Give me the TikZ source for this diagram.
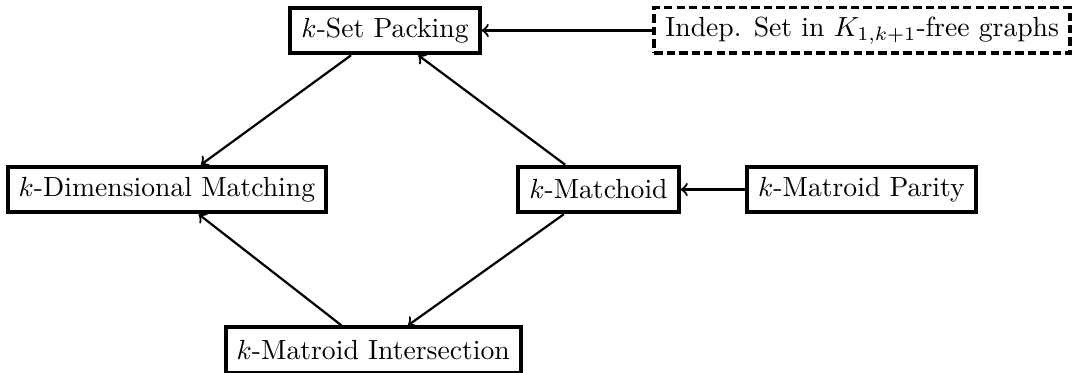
\documentclass[tikz,border=0pt]{standalone}
\usepackage{amsmath}
\usepackage{tikz}
\usetikzlibrary{arrows}

\begin{document}
\begin{tikzpicture}[>=to,
	problem/.style={draw, line width=1.4pt, inner xsep=4pt, minimum height=16.5pt},
	openproblem/.style={problem, dash pattern=on 3pt off 1.5pt}]

	\useasboundingbox (0,0) rectangle (13.716,4.737);
%	\draw[gray,step=0.5] (0,0) grid (13.7,4.7);

	\node [problem] (pack) at (4.89,4.35) {$k$-Set Packing};
	\node [openproblem] (indep) at (10.95,4.35) {Indep. Set in $K_{1,k+1}$-free graphs};
	\node [problem] (dim) at (2.12,2.33) {$k$-Dimensional Matching};
	\node [problem] (matchoid) at (7.60,2.33) {$k$-Matchoid};
	\node [problem] (parity) at (10.94,2.33) {$k$-Matroid Parity};
	\node [problem] (inter) at (4.74,0.29) {$k$-Matroid Intersection};

	%
	\draw[->,thick] (indep) -- (pack);
	\draw[->,thick] (parity) -- (matchoid);
	\draw[->,thick] (pack) -- (dim);
	\draw[->,thick] (matchoid) -- (pack);
	\draw[->,thick] (matchoid) -- (inter);
	\draw[->,thick] (inter) -- (dim);

\end{tikzpicture}
\end{document}
